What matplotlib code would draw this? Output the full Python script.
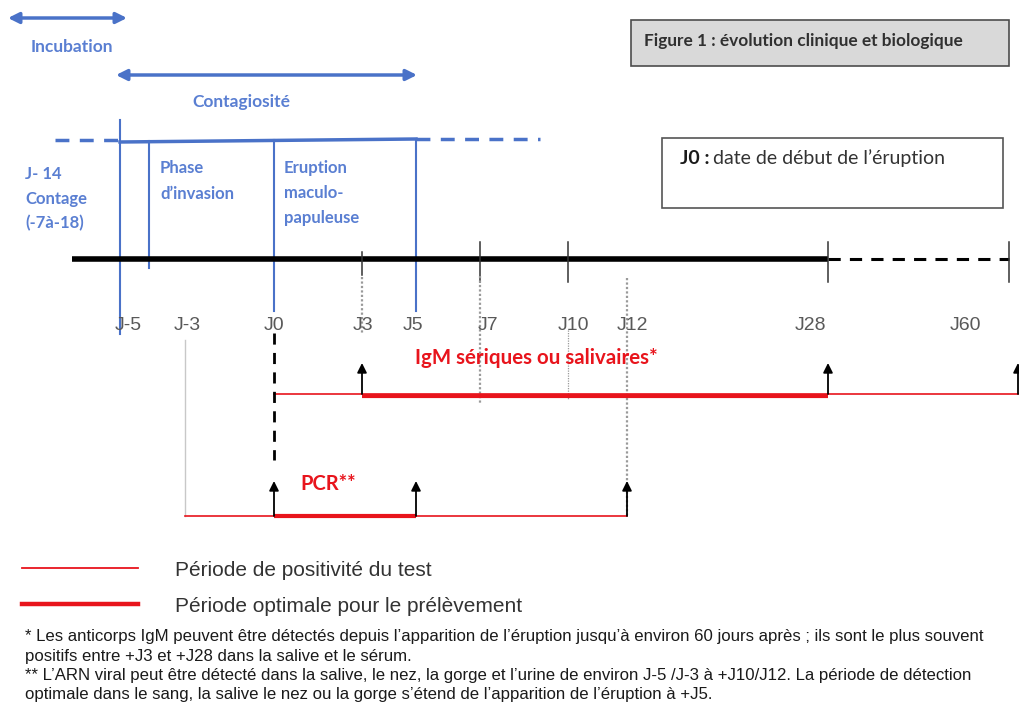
import numpy as np
import matplotlib
matplotlib.use("Agg")
import matplotlib.pyplot as plt
from matplotlib.patches import Rectangle

# ---------------- data ----------------
tick_days = [-5, -3, 0, 3, 5, 7, 10, 12, 28, 60]
tick_labels = ["J-5", "J-3", "J0", "J3", "J5", "J7", "J10", "J12", "J28", "J60"]
phase_days = [-5, -4, 0, 5]          # contagiosité start, invasion, éruption, end contagiosité
igm_positive = [0, 60]
igm_optimal = [3, 28]
igm_arrows = [3, 28, 60]
pcr_positive = [-3, 12]
pcr_optimal = [0, 5]
pcr_arrows = [0, 5, 12]
black_ticks = [3, 7, 10, 28, 60]
dotted_days = [3, 7, 10, 12]

# ---------------- layout (non-linear time axis) ----------------
x_anchor = [120, 185, 274, 362, 416, 480, 568, 627, 828, 1009]
def X(d):
    return float(np.interp(d, tick_days, x_anchor))

label_dx = {"J-5": 8, "J-3": 2, "J0": 0, "J3": 1, "J5": -3, "J7": 8, "J10": 5, "J12": 5, "J28": -18, "J60": -44}

BLUE = "#4a72c8"
BLUE_T = "#5a7fd2"
RED = "#e8141c"
GREY = "#595959"

fig = plt.figure(figsize=(10.2, 7.06), dpi=100)
ax = fig.add_axes([0, 0, 1, 1])
ax.set_xlim(0, 1020)
ax.set_ylim(706, 0)
ax.axis("off")

CAL = ["Lato", "DejaVu Sans"]
ARI = ["Liberation Sans", "DejaVu Sans"]

# arrows top
ax.annotate("", xy=(8, 18), xytext=(127, 18),
            arrowprops=dict(arrowstyle="<|-|>", color=BLUE, lw=2.5, mutation_scale=16, shrinkA=0, shrinkB=0))
ax.text(72, 47, "Incubation", color=BLUE_T, fontsize=12.5, fontweight="bold", family=CAL, ha="center", va="center")
ax.annotate("", xy=(X(phase_days[0]) - 4, 75), xytext=(X(phase_days[3]) + 1, 75),
            arrowprops=dict(arrowstyle="<|-|>", color=BLUE, lw=2.5, mutation_scale=16, shrinkA=0, shrinkB=0))
ax.text(241, 102, "Contagiosité", color=BLUE_T, fontsize=12.5, fontweight="bold", family=CAL, ha="center", va="center")

# blue horizontal
ax.plot([55, X(phase_days[0])], [140, 140], color=BLUE, lw=2.5, ls=(0, (4, 3)))
ax.plot([X(phase_days[0]), X(phase_days[3])], [142, 139], color=BLUE, lw=2.5)
ax.plot([X(phase_days[3]), 540], [139, 139], color=BLUE, lw=2.5, ls=(0, (4, 3)))

# blue verticals
ax.plot([X(phase_days[0])] * 2, [120, 334], color=BLUE, lw=1.5)
ax.plot([149, 149], [141, 268], color=BLUE, lw=1.5)
ax.plot([X(phase_days[2])] * 2, [140, 311], color=BLUE, lw=1.5)
ax.plot([X(phase_days[3])] * 2, [139, 311], color=BLUE, lw=1.5)

ax.text(25, 199, "J- 14\nContage\n(-7à-18)", color=BLUE_T, fontsize=12, fontweight="bold", family=CAL,
        ha="left", va="center", linespacing=1.65)
ax.text(160, 181, "Phase\nd’invasion", color=BLUE_T, fontsize=12, fontweight="bold", family=CAL,
        ha="left", va="center", linespacing=1.7)
ax.text(284, 193, "Eruption\nmaculo-\npapuleuse", color=BLUE_T, fontsize=12, fontweight="bold", family=CAL,
        ha="left", va="center", linespacing=1.7)

# boxes
ax.add_patch(Rectangle((631, 20), 378, 46, facecolor="#d9d9d9", edgecolor="#4d4d4d", lw=1.2))
ax.text(644, 41, "Figure 1 : évolution clinique et biologique", color="#303030", fontsize=12.4,
        fontweight="bold", family=CAL, ha="left", va="center")
ax.add_patch(Rectangle((662, 138), 341, 70, facecolor="white", edgecolor="#555555", lw=1.2))
ax.text(680, 158, "J0 :", color="#1a1a1a", fontsize=14, fontweight="bold", family=CAL, ha="left", va="center")
ax.text(713, 158, "date de début de l’éruption", color="#333333", fontsize=14, family=CAL, ha="left", va="center")

# main time axis
ax.plot([72, X(28)], [259, 259], color="black", lw=4, solid_capstyle="butt")
ax.plot([X(28), X(60)], [259, 259], color="black", lw=2.2, ls=(0, (4, 3)))
for d in black_ticks:
    top, bot = (252, 275) if d == 3 else (242, 282)
    ax.plot([X(d)] * 2, [top, bot], color="#333333", lw=1.1)

# dotted guides
dotted_span = {3: (277, 334), 7: (276, 403), 10: (330, 400), 12: (278, 515)}
for d in dotted_days:
    a, b = dotted_span[d]
    ax.plot([X(d)] * 2, [a, b], color="#9a9a9a", lw=1.6 if d != 10 else 0.9, ls=(0, (1, 1)))

# tick labels
for d, lab in zip(tick_days, tick_labels):
    ax.text(X(d) + label_dx[lab], 325, lab, color=GREY, fontsize=14, family=ARI, ha="center", va="center")

# IgM
y_igm = 394
ax.text(415, 358, "IgM sériques ou salivaires*", color=RED, fontsize=14.8, fontweight="bold", family=CAL,
        ha="left", va="center")
ax.plot([X(igm_positive[0]), 1020], [y_igm, y_igm], color=RED, lw=1.2)
ax.plot([X(igm_optimal[0]), X(igm_optimal[1])], [y_igm + 1.5, y_igm + 1.5], color=RED, lw=3, solid_capstyle="butt")
for d in igm_arrows:
    xx = X(d) + (9 if d == 60 else 0)
    ax.annotate("", xy=(xx, 363), xytext=(xx, y_igm),
                arrowprops=dict(arrowstyle="-|>", color="black", lw=1.3, mutation_scale=14, shrinkA=0, shrinkB=0))

# dashed J0
ax.plot([X(0)] * 2, [333, 460], color="black", lw=2, ls=(0, (4, 3)))

# PCR
y_pcr = 516
ax.text(300, 484, "PCR**", color=RED, fontsize=14.5, fontweight="bold", family=CAL, ha="left", va="center")
ax.plot([X(pcr_positive[0])] * 2, [340, y_pcr], color="#c8c8c8", lw=1)
ax.plot([X(pcr_positive[0]), X(pcr_positive[1])], [y_pcr, y_pcr], color=RED, lw=1.2)
ax.plot([X(pcr_optimal[0]), X(pcr_optimal[1])], [y_pcr, y_pcr], color=RED, lw=3, solid_capstyle="butt")
for d in pcr_arrows:
    ax.annotate("", xy=(X(d), 481), xytext=(X(d), y_pcr),
                arrowprops=dict(arrowstyle="-|>", color="black", lw=1.3, mutation_scale=14, shrinkA=0, shrinkB=0))

# legend
ax.plot([22, 138], [568, 568], color=RED, lw=1.3)
ax.text(175, 570, "Période de positivité du test", color="#333333", fontsize=15, family=ARI, ha="left", va="center")
ax.plot([22, 138], [604, 604], color=RED, lw=3.2)
ax.text(175, 606, "Période optimale pour le prélèvement", color="#333333", fontsize=15, family=ARI, ha="left", va="center")

notes = [
    "* Les anticorps IgM peuvent être détectés depuis l’apparition de l’éruption jusqu’à environ 60 jours après ; ils sont le plus souvent",
    "positifs entre +J3 et +J28 dans la salive et le sérum.",
    "** L’ARN viral peut être détecté dans la salive, le nez, la gorge et l’urine de environ J-5 /J-3 à +J10/J12. La période de détection",
    "optimale dans le sang, la salive le nez ou la gorge s’étend de l’apparition de l’éruption à +J5.",
]
for i, t in enumerate(notes):
    ax.text(25, 637 + i * 19.3, t, color="#1a1a1a", fontsize=12.1, family=ARI, ha="left", va="center")

fig.savefig("out.png", dpi=100)
